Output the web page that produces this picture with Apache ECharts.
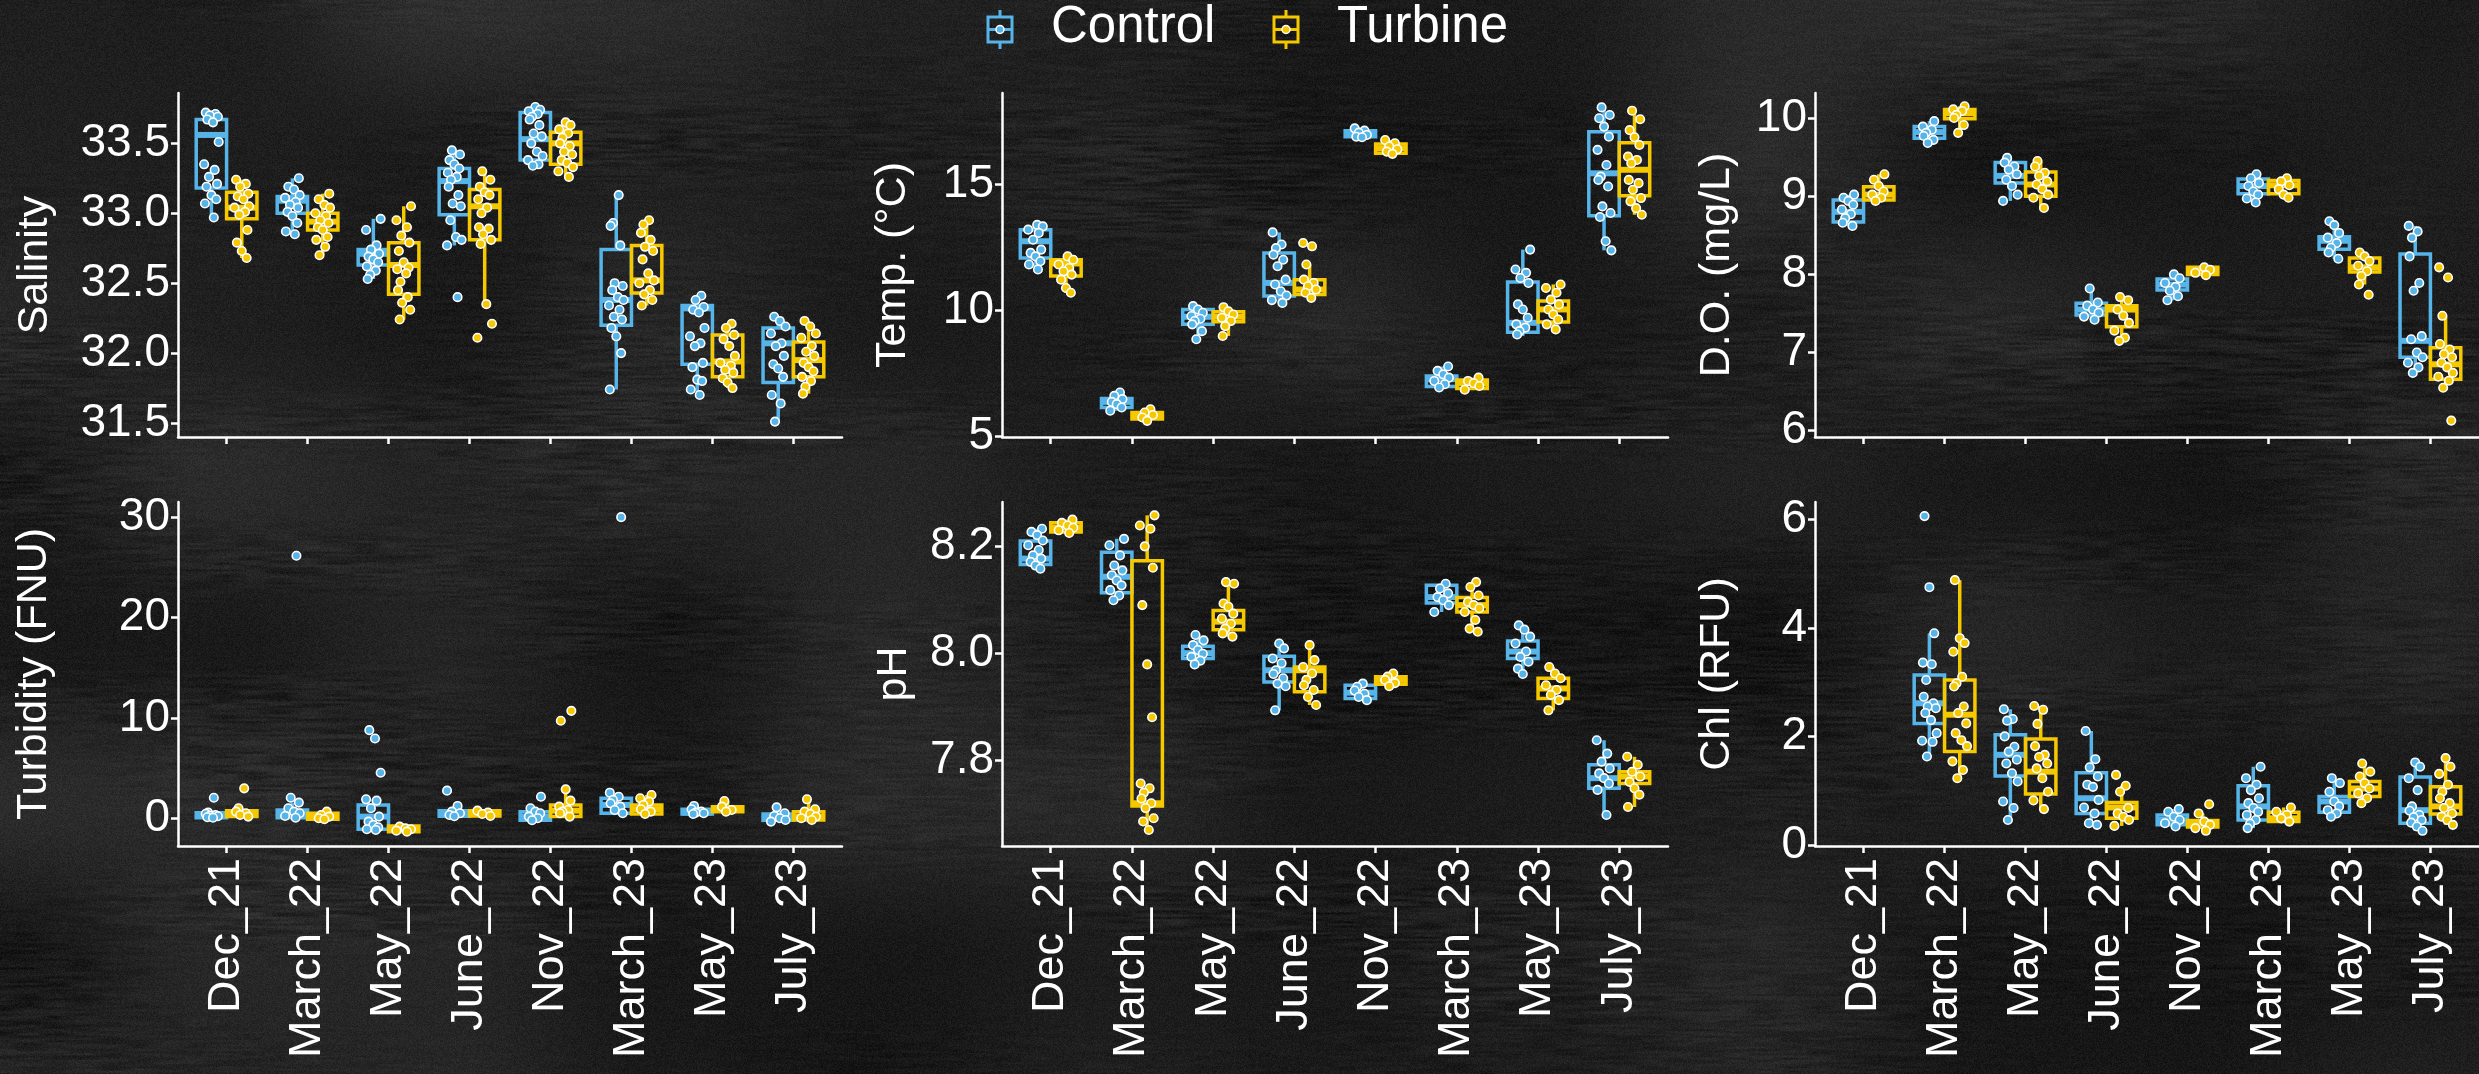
<!DOCTYPE html>
<html>
<head>
<meta charset="utf-8">
<script src="https://cdn.jsdelivr.net/npm/echarts@6/dist/echarts.min.js"></script>
<style>
  html, body { margin: 0; padding: 0; background: #1d1d1d; overflow: hidden; }
  #wrap { position: relative; width: 2479px; height: 1074px; }
  #board, #chart { position: absolute; left: 0; top: 0; width: 2479px; height: 1074px; }
</style>
</head>
<body>
<div id="wrap">
  <canvas id="board" width="2479" height="1074"></canvas>
  <div id="chart"></div>
</div>
<script>
// ---- sampling campaigns ----
const categories = ['Dec_21', 'March_22', 'May_22', 'June_22', 'Nov_22', 'March_23', 'May_23', 'July_23'];
const groups = ['Control', 'Turbine'];

// ---- box statistics per campaign: [lower whisker, Q1, median, Q3, upper whisker] ----
const salinityCtrlBox = [[32.97,33.18,33.56,33.67,33.72],[32.85,33.00,33.09,33.12,33.25],[32.53,32.63,32.71,32.74,32.96],[32.77,32.99,33.23,33.32,33.45],[33.34,33.38,33.53,33.72,33.76],[31.74,32.20,32.38,32.74,33.13],[31.70,31.92,32.32,32.34,32.41],[31.51,31.79,32.07,32.18,32.26]];
const salinityTurbBox = [[32.68,32.96,33.04,33.15,33.24],[32.70,32.88,32.94,33.00,33.14],[32.24,32.42,32.63,32.79,33.05],[32.35,32.81,33.05,33.17,33.30],[33.26,33.35,33.50,33.58,33.65],[32.34,32.43,32.52,32.77,32.95],[31.75,31.83,31.94,32.13,32.21],[31.71,31.83,31.95,32.08,32.23]];
const tempCtrlBox = [[11.62,12.08,12.74,13.20,13.39],[6.03,6.16,6.38,6.51,6.75],[8.86,9.45,9.75,10.04,10.17],[10.30,10.57,11.09,12.28,13.09],[16.86,16.88,17.02,17.12,17.21],[6.95,6.99,7.28,7.41,7.78],[8.99,9.14,9.51,11.13,12.41],[12.38,13.75,15.43,17.08,18.04]];
const tempTurbBox = [[10.70,11.36,11.86,12.01,12.14],[5.63,5.70,5.83,5.96,6.09],[8.99,9.55,9.75,9.95,10.13],[10.50,10.63,10.83,11.22,11.82],[16.20,16.22,16.42,16.59,16.75],[6.86,6.91,7.12,7.25,7.34],[9.25,9.54,10.04,10.37,11.03],[13.79,14.54,15.57,16.64,17.91]];
const doCtrlBox = [[8.62,8.67,8.80,8.95,9.02],[9.68,9.74,9.82,9.89,9.96],[8.94,9.17,9.26,9.43,9.49],[7.42,7.48,7.55,7.63,7.82],[7.67,7.80,7.87,7.94,8.00],[8.92,9.03,9.13,9.22,9.28],[8.20,8.32,8.43,8.48,8.68],[6.74,6.94,7.15,8.26,8.62]];
const doTurbBox = [[8.94,8.95,9.02,9.12,9.28],[9.81,9.99,10.06,10.11,10.15],[8.85,9.00,9.15,9.31,9.45],[7.15,7.33,7.55,7.60,7.71],[7.99,8.00,8.04,8.09,8.09],[8.98,9.03,9.14,9.20,9.23],[7.87,8.03,8.09,8.21,8.28],[6.55,6.66,6.85,7.06,7.47]];
const turbCtrlBox = [[0.05,0.05,0.23,0.56,0.56],[0.05,0.05,0.50,0.83,1.56],[-1.16,-1.09,0.17,1.33,1.89],[0.20,0.20,0.33,0.76,1.23],[-0.20,-0.20,0.17,0.66,1.00],[0.50,0.50,1.33,1.99,2.55],[0.43,0.43,0.56,0.90,1.23],[-0.33,-0.20,0.17,0.43,1.09]];
const turbTurbBox = [[0.17,0.17,0.50,0.76,1.00],[-0.10,-0.10,0.17,0.50,0.66],[-1.33,-1.33,-1.06,-0.76,-0.76],[0.23,0.23,0.50,0.76,0.76],[0.17,0.17,0.76,1.33,2.88],[0.43,0.43,0.90,1.33,2.32],[0.66,0.66,0.83,1.16,1.72],[-0.17,-0.17,0.17,0.66,1.89]];
const phCtrlBox = [[8.158,8.166,8.177,8.210,8.233],[8.099,8.113,8.143,8.189,8.214],[7.979,7.990,8.000,8.013,8.034],[7.893,7.946,7.968,7.994,8.018],[7.912,7.915,7.926,7.940,7.943],[8.077,8.094,8.105,8.127,8.130],[7.961,7.990,8.003,8.023,8.052],[7.697,7.747,7.766,7.791,7.837]];
const phTurbBox = [[8.225,8.227,8.235,8.244,8.250],[7.666,7.714,7.719,8.173,8.258],[8.031,8.044,8.059,8.080,8.133],[7.903,7.928,7.968,7.974,8.015],[7.938,7.942,7.950,7.956,7.962],[8.040,8.077,8.090,8.104,8.133],[7.893,7.915,7.934,7.953,7.974],[7.712,7.756,7.769,7.778,7.806]];
const chlCtrlBox = [null,[1.63,2.24,2.61,3.13,3.90],[0.46,1.27,1.66,2.03,2.50],[0.37,0.58,0.86,1.33,2.10],[0.34,0.37,0.46,0.55,0.66],[0.31,0.46,0.71,1.09,1.44],[0.52,0.60,0.80,0.89,1.23],[0.26,0.40,0.64,1.25,1.52]];
const chlTurbBox = [null,[1.23,1.72,2.40,3.04,4.88],[0.66,0.94,1.35,1.95,2.56],[0.35,0.49,0.69,0.78,1.09],[0.26,0.33,0.39,0.45,0.58],[0.43,0.43,0.49,0.60,0.69],[0.77,0.89,1.04,1.17,1.50],[0.37,0.57,0.71,1.07,1.60]];

// ---- individual measurements per campaign ----
const salinityCtrlPts = [
  [33.72,33.71,33.70,33.69,33.67,33.65,33.51,33.35,33.31,33.26,33.21,33.19,33.13,33.10,33.07,32.97],
  [33.25,33.19,33.17,33.13,33.11,33.08,33.06,33.04,33.01,32.98,32.93,32.87,32.85],
  [32.96,32.88,32.77,32.74,32.71,32.69,32.67,32.65,32.62,32.59,32.56,32.53],
  [33.45,33.42,33.38,33.35,33.32,33.29,33.26,33.24,33.19,33.13,33.07,33.05,32.95,32.83,32.81,32.77,32.40],
  [33.76,33.74,33.73,33.71,33.69,33.67,33.63,33.57,33.55,33.50,33.44,33.41,33.38,33.35,33.34],
  [33.13,32.93,32.91,32.77,32.50,32.48,32.45,32.40,32.38,32.34,32.31,32.26,32.24,32.18,32.12,32.00,31.74],
  [32.41,32.38,32.33,32.31,32.29,32.18,32.12,32.07,32.05,31.93,31.90,31.81,31.80,31.74,31.70],
  [32.26,32.23,32.19,32.14,32.07,32.05,31.98,31.92,31.89,31.83,31.70,31.64,31.51]
];
const salinityTurbPts = [
  [33.24,33.21,33.19,33.14,33.12,33.10,33.05,33.04,33.01,32.99,32.88,32.79,32.73,32.68],
  [33.14,33.10,33.06,33.04,33.00,32.98,32.95,32.93,32.90,32.88,32.83,32.81,32.76,32.70],
  [33.05,32.95,32.90,32.84,32.79,32.73,32.65,32.61,32.60,32.57,32.51,32.45,32.40,32.36,32.31,32.24],
  [33.30,33.24,33.19,33.15,33.13,33.10,33.04,33.00,32.90,32.89,32.85,32.81,32.78,32.35,32.21,32.11],
  [33.65,33.63,33.60,33.57,33.54,33.50,33.48,33.44,33.42,33.38,33.36,33.33,33.30,33.26],
  [32.95,32.92,32.86,32.81,32.76,32.73,32.67,32.57,32.52,32.50,32.45,32.42,32.38,32.34],
  [32.21,32.18,32.13,32.10,32.05,31.98,31.93,31.91,31.88,31.86,31.82,31.79,31.75],
  [32.23,32.19,32.14,32.11,32.05,32.01,31.98,31.93,31.90,31.87,31.83,31.80,31.76,31.71]
];
const tempCtrlPts = [
  [13.39,13.33,13.20,13.07,12.80,12.41,12.28,12.14,11.95,11.82,11.62],
  [6.75,6.62,6.49,6.38,6.29,6.16,6.03],
  [10.17,10.04,9.91,9.78,9.67,9.58,9.45,9.18,8.86],
  [13.09,12.61,12.47,12.21,12.01,11.75,11.22,11.03,10.76,10.59,10.41,10.30],
  [17.21,17.12,17.04,16.95,16.88,16.86],
  [7.78,7.61,7.47,7.34,7.21,7.08,6.95],
  [12.41,11.62,11.49,11.29,11.09,10.24,10.04,9.71,9.45,9.32,9.18,9.05],
  [18.04,17.74,17.61,17.28,16.88,16.36,15.76,15.30,15.17,14.91,14.12,13.86,13.70,12.74,12.38]
];
const tempTurbPts = [
  [12.14,12.01,11.82,11.68,11.55,11.42,11.22,10.89,10.70],
  [6.09,5.96,5.86,5.76,5.63],
  [10.13,9.97,9.84,9.71,9.58,9.38,8.99],
  [12.67,12.54,11.82,11.22,11.09,10.96,10.83,10.70,10.50],
  [16.75,16.62,16.49,16.38,16.29,16.20],
  [7.34,7.21,7.12,7.01,6.86],
  [11.03,10.89,10.70,10.43,10.24,10.04,9.84,9.64,9.45,9.25],
  [17.91,17.57,17.14,16.86,16.55,16.09,15.96,15.83,15.17,15.04,14.78,14.45,14.32,14.05,13.79]
];
const doCtrlPts = [
  [9.02,8.98,8.94,8.89,8.83,8.77,8.72,8.66,8.62],
  [9.96,9.89,9.85,9.81,9.77,9.72,9.68],
  [9.49,9.43,9.38,9.34,9.28,9.21,9.13,9.02,8.94],
  [7.82,7.64,7.60,7.55,7.51,7.46,7.42],
  [8.00,7.95,7.89,7.84,7.79,7.72,7.67],
  [9.28,9.23,9.17,9.13,9.06,9.02,8.97,8.92],
  [8.68,8.63,8.53,8.47,8.40,8.34,8.28,8.20],
  [8.62,8.55,8.47,8.23,7.89,7.79,7.21,7.17,7.00,6.94,6.87,6.81,6.74]
];
const doTurbPts = [
  [9.28,9.21,9.13,9.06,9.02,8.98,8.94],
  [10.15,10.11,10.09,10.04,10.00,9.91,9.81],
  [9.45,9.38,9.30,9.26,9.19,9.15,9.09,9.02,8.98,8.85],
  [7.71,7.67,7.55,7.47,7.38,7.28,7.19,7.15],
  [8.09,8.06,8.02,7.99],
  [9.23,9.19,9.14,9.09,9.02,8.98],
  [8.28,8.23,8.17,8.11,8.04,7.98,7.87,7.74],
  [8.09,7.96,7.47,7.11,7.04,6.98,6.94,6.87,6.81,6.74,6.69,6.64,6.55,6.13]
];
const turbCtrlPts = [
  [2.05,0.56,0.45,0.33,0.25,0.20,0.10,0.05],
  [26.15,2.05,1.56,1.00,0.66,0.50,0.23,0.05],
  [8.78,7.95,4.54,1.89,1.76,1.00,0.17,-0.33,-0.66,-0.90,-1.09,-1.16],
  [2.75,1.23,0.66,0.50,0.33,0.20],
  [2.15,1.00,0.66,0.50,0.17,0.00,-0.20],
  [29.99,2.55,2.15,1.82,1.49,1.16,0.83,0.50],
  [1.23,0.90,0.66,0.56,0.50,0.43],
  [1.09,0.50,0.23,0.00,-0.17,-0.33]
];
const turbTurbPts = [
  [2.98,1.00,0.66,0.50,0.33,0.17],
  [0.66,0.33,0.17,0.00,-0.10],
  [-0.83,-1.00,-1.09,-1.23,-1.33],
  [0.76,0.56,0.43,0.23],
  [10.70,9.71,2.88,1.76,1.16,0.83,0.66,0.50,0.17],
  [2.32,1.99,1.66,1.33,0.90,0.66,0.43],
  [1.72,1.16,0.83,0.66],
  [1.89,0.90,0.66,0.43,0.17,0.00,-0.17]
];
const phCtrlPts = [
  [8.233,8.227,8.221,8.211,8.202,8.193,8.183,8.177,8.171,8.164,8.158],
  [8.214,8.202,8.183,8.164,8.155,8.146,8.136,8.127,8.118,8.108,8.099],
  [8.034,8.024,8.015,8.006,7.999,7.993,7.986,7.979],
  [8.018,8.009,7.990,7.981,7.968,7.961,7.953,7.943,7.938,7.893],
  [7.943,7.937,7.930,7.924,7.918,7.912],
  [8.130,8.121,8.112,8.105,8.099,8.090,8.077],
  [8.052,8.044,8.031,8.018,8.003,7.993,7.984,7.971,7.961],
  [7.837,7.812,7.797,7.784,7.775,7.766,7.756,7.744,7.697]
];
const phTurbPts = [
  [8.250,8.244,8.239,8.235,8.230,8.225],
  [8.258,8.239,8.233,8.200,8.160,8.090,7.979,7.880,7.756,7.747,7.739,7.728,7.719,7.710,7.691,7.685,7.669],
  [8.133,8.130,8.093,8.087,8.074,8.065,8.055,8.046,8.037,8.031],
  [8.015,7.987,7.974,7.962,7.950,7.940,7.931,7.918,7.903],
  [7.962,7.956,7.950,7.944,7.938],
  [8.133,8.124,8.108,8.096,8.090,8.084,8.077,8.062,8.046,8.040],
  [7.974,7.962,7.953,7.940,7.931,7.922,7.912,7.893],
  [7.806,7.791,7.778,7.769,7.759,7.747,7.735,7.712]
];
const chlCtrlPts = [
  [],
  [6.06,4.75,3.90,3.36,3.33,3.04,2.73,2.61,2.55,2.52,2.43,2.30,2.06,1.92,1.90,1.63],
  [2.50,2.32,2.29,2.00,1.81,1.72,1.57,1.50,1.32,1.17,0.80,0.68,0.46],
  [2.10,1.58,1.43,1.26,1.11,1.07,0.83,0.69,0.58,0.40,0.37],
  [0.66,0.61,0.52,0.46,0.40,0.34],
  [1.44,1.23,1.11,1.01,0.86,0.77,0.68,0.61,0.55,0.46,0.39,0.31],
  [1.23,1.14,0.98,0.80,0.71,0.64,0.58,0.52],
  [1.52,1.44,1.23,1.01,0.71,0.63,0.55,0.51,0.46,0.41,0.34,0.26]
];
const chlTurbPts = [
  [],
  [4.88,3.81,3.72,3.56,3.10,2.98,2.92,2.55,2.43,2.24,2.06,1.93,1.82,1.54,1.38,1.23],
  [2.56,2.49,2.23,1.82,1.66,1.62,1.50,1.41,1.23,0.98,0.82,0.66],
  [1.29,1.09,0.98,0.68,0.58,0.52,0.46,0.35],
  [0.75,0.58,0.43,0.37,0.31,0.26],
  [0.69,0.61,0.55,0.49,0.43],
  [1.50,1.35,1.26,1.14,1.04,0.95,0.86,0.77],
  [1.60,1.44,1.31,1.11,0.98,0.86,0.77,0.68,0.58,0.52,0.46,0.37]
];

// ---- y-axis tick labels per panel ----
const salinityTicks = [31.5, 32.0, 32.5, 33.0, 33.5];
const tempTicks = [5, 10, 15];
const doTicks = [6, 7, 8, 9, 10];
const turbTicks = [0, 10, 20, 30];
const phTicks = [7.8, 8.0, 8.2];
const chlTicks = [0, 2, 4, 6];

// ---- look ----
const COLORS = ['#56B4E9', '#F5C800'];
const FONT = "'Liberation Sans', Arial, Helvetica, sans-serif";
const WHITE = '#ffffff';
const DODGE = 0.1875;      // half of each box's width, in category units
const BOX_LW = 3.5;
const MED_LW = 6;
const JITTER = [-0.07, 0.05, -0.02, 0.08, -0.05, 0.02, 0.09, -0.09, 0.04, -0.03, 0.07, -0.06, 0.0, 0.06, -0.08, 0.03, -0.04];

const panels = [
  { title: 'Salinity',        grid: { left: 178,  top: 93,  width: 664, height: 344 }, min: 31.40, max: 33.86, ticks: salinityTicks, dec: 1, gap: 121, xLabels: false, box: [salinityCtrlBox, salinityTurbBox], pts: [salinityCtrlPts, salinityTurbPts] },
  { title: 'Temp. (°C)',      grid: { left: 1002, top: 93,  width: 666, height: 344 }, min: 4.99,  max: 18.61, ticks: tempTicks,     dec: 0, gap: 87,  xLabels: false, box: [tempCtrlBox, tempTurbBox],         pts: [tempCtrlPts, tempTurbPts] },
  { title: 'D.O. (mg/L)',     grid: { left: 1815, top: 93,  width: 664, height: 344 }, min: 5.92,  max: 10.32, ticks: doTicks,       dec: 0, gap: 76,  xLabels: false, box: [doCtrlBox, doTurbBox],             pts: [doCtrlPts, doTurbPts] },
  { title: 'Turbidity (FNU)', grid: { left: 178,  top: 502, width: 664, height: 344 }, min: -2.76, max: 31.5,  ticks: turbTicks,     dec: 0, gap: 122, xLabels: true,  box: [turbCtrlBox, turbTurbBox],         pts: [turbCtrlPts, turbTurbPts] },
  { title: 'pH',              grid: { left: 1002, top: 502, width: 666, height: 344 }, min: 7.639, max: 8.283, ticks: phTicks,       dec: 1, gap: 86,  xLabels: true,  box: [phCtrlBox, phTurbBox],             pts: [phCtrlPts, phTurbPts] },
  { title: 'Chl (RFU)',       grid: { left: 1815, top: 502, width: 664, height: 344 }, min: -0.02, max: 6.32,  ticks: chlTicks,      dec: 0, gap: 76,  xLabels: true,  box: [chlCtrlBox, chlTurbBox],           pts: [chlCtrlPts, chlTurbPts] }
];

// ---- chalkboard backdrop: mottled grey with short horizontal chalk scratches ----
(function paintBoard() {
  const c = document.getElementById('board');
  const w = c.width, h = c.height;
  const ctx = c.getContext('2d');
  const img = ctx.createImageData(w, h);
  const d = img.data;
  let seed = 918273;
  const next = () => { seed = (seed * 1664525 + 1013904223) >>> 0; return seed / 4294967296; };
  const smooth = t => t * t * (3 - 2 * t);
  function field(cx, cy) {
    const gw = Math.ceil(w / cx) + 2, gh = Math.ceil(h / cy) + 2;
    const g = new Float32Array(gw * gh);
    for (let i = 0; i < g.length; i++) g[i] = next() - 0.5;
    return function (x, y) {
      const fx = x / cx, fy = y / cy;
      const ix = fx | 0, iy = fy | 0;
      const tx = smooth(fx - ix), ty = smooth(fy - iy);
      const a = g[iy * gw + ix], b = g[iy * gw + ix + 1];
      const e = g[(iy + 1) * gw + ix], f = g[(iy + 1) * gw + ix + 1];
      return (a + (b - a) * tx) * (1 - ty) + (e + (f - e) * tx) * ty;
    };
  }
  const blotch = field(220, 160);
  const mask = field(300, 70);
  const scratch = field(28, 2.2);
  for (let y = 0; y < h; y++) {
    const gy = y / h;
    for (let x = 0; x < w; x++) {
      const gx = x / w;
      const base = 31 + 8 * (1 - gx) * (1 - gy) - 5 * gx * gy;
      const m = Math.max(0, mask(x, y) + 0.25);
      let v = base + 22 * blotch(x, y) + 34 * scratch(x, y) * m + (next() - 0.5) * 16;
      if (v < 6) v = 6;
      const i = (y * w + x) * 4;
      d[i] = d[i + 1] = d[i + 2] = v;
      d[i + 3] = 255;
    }
  }
  ctx.putImageData(img, 0, 0);
})();

// ---- chart ----
const chart = echarts.init(document.getElementById('chart'), null, { renderer: 'canvas' });
const catIdx = categories.map((_, i) => i);

function boxRenderer(offset, color) {
  return function (params, api) {
    const cx = api.value(0) + offset;
    const lo = api.value(1), q1 = api.value(2), med = api.value(3), q3 = api.value(4), hi = api.value(5);
    const tl = api.coord([cx - DODGE, q3]);
    const br = api.coord([cx + DODGE, q1]);
    const m = api.coord([cx, med]);
    const pHi = api.coord([cx, hi]);
    const pLo = api.coord([cx, lo]);
    const ln = { stroke: color, lineWidth: BOX_LW, fill: null };
    return {
      type: 'group',
      children: [
        { type: 'line', shape: { x1: m[0], y1: pHi[1], x2: m[0], y2: tl[1] }, style: ln },
        { type: 'line', shape: { x1: m[0], y1: br[1], x2: m[0], y2: pLo[1] }, style: ln },
        { type: 'rect', shape: { x: tl[0], y: tl[1], width: br[0] - tl[0], height: br[1] - tl[1] }, style: { stroke: color, lineWidth: BOX_LW, fill: 'transparent' } },
        { type: 'line', shape: { x1: tl[0], y1: m[1], x2: br[0], y2: m[1] }, style: { stroke: color, lineWidth: MED_LW } }
      ]
    };
  };
}

const grids = [], xAxes = [], yAxes = [], series = [];
panels.forEach((p, k) => {
  grids.push(Object.assign({ containLabel: false }, p.grid));
  xAxes.push({
    type: 'value', gridIndex: k, min: -0.6, max: 7.6,
    axisLine: { show: true, onZero: false, lineStyle: { color: WHITE, width: 2.5 } },
    axisTick: { show: true, customValues: catIdx, length: 7, lineStyle: { color: WHITE, width: 2.5 } },
    axisLabel: {
      show: p.xLabels, customValues: catIdx, rotate: 90, margin: 12,
      color: WHITE, fontSize: 45, fontFamily: FONT,
      formatter: v => categories[Math.round(v)]
    },
    splitLine: { show: false }
  });
  yAxes.push({
    type: 'value', gridIndex: k, min: p.min, max: p.max,
    name: p.title, nameLocation: 'middle', nameRotate: 90, nameGap: p.gap,
    nameTextStyle: { color: WHITE, fontSize: 43, fontFamily: FONT },
    axisLine: { show: true, onZero: false, lineStyle: { color: WHITE, width: 2.5 } },
    axisTick: { show: true, customValues: p.ticks, length: 7, lineStyle: { color: WHITE, width: 2.5 } },
    axisLabel: {
      customValues: p.ticks, margin: 8, color: WHITE, fontSize: 46, fontFamily: FONT,
      formatter: v => Number(v).toFixed(p.dec)
    },
    splitLine: { show: false }
  });
  groups.forEach((g, gi) => {
    const offset = gi === 0 ? -DODGE : DODGE;
    const boxData = [];
    p.box[gi].forEach((b, i) => { if (b) boxData.push([i].concat(b)); });
    series.push({
      name: g, type: 'custom', xAxisIndex: k, yAxisIndex: k, z: 2,
      renderItem: boxRenderer(offset, COLORS[gi]),
      encode: { x: 0, y: [1, 2, 3, 4, 5] },
      data: boxData, silent: true
    });
  });
  groups.forEach((g, gi) => {
    const offset = gi === 0 ? -DODGE : DODGE;
    const pts = [];
    p.pts[gi].forEach((vals, i) => {
      vals.forEach((v, j) => {
        pts.push([i + offset + JITTER[(j + 3 * i + 5 * k) % JITTER.length], v]);
      });
    });
    series.push({
      name: g, type: 'scatter', xAxisIndex: k, yAxisIndex: k, z: 3,
      symbol: 'circle', symbolSize: 8.5,
      itemStyle: { color: COLORS[gi], borderColor: WHITE, borderWidth: 1.6, opacity: 1 },
      data: pts, silent: true
    });
  });
});

// legend keys: miniature box with centre dot
function legendKey(x, color) {
  return {
    type: 'group', children: [
      { type: 'line', shape: { x1: x + 12, y1: 10, x2: x + 12, y2: 17 }, style: { stroke: color, lineWidth: 3 } },
      { type: 'line', shape: { x1: x + 12, y1: 42, x2: x + 12, y2: 49 }, style: { stroke: color, lineWidth: 3 } },
      { type: 'rect', shape: { x: x, y: 17, width: 24, height: 25 }, style: { stroke: color, lineWidth: 3, fill: 'transparent' } },
      { type: 'line', shape: { x1: x, y1: 29.5, x2: x + 24, y2: 29.5 }, style: { stroke: color, lineWidth: 3 } },
      { type: 'circle', shape: { cx: x + 12, cy: 29.5, r: 4 }, style: { fill: color, stroke: WHITE, lineWidth: 1.5 } }
    ]
  };
}

chart.setOption({
  animation: false,
  backgroundColor: 'transparent',
  grid: grids,
  xAxis: xAxes,
  yAxis: yAxes,
  series: series,
  graphic: [
    legendKey(988, COLORS[0]),
    { type: 'text', left: 1051, top: 2, style: { text: groups[0], fill: WHITE, fontSize: 51, fontFamily: FONT } },
    legendKey(1274, COLORS[1]),
    { type: 'text', left: 1337, top: 2, style: { text: groups[1], fill: WHITE, fontSize: 51, fontFamily: FONT } }
  ]
});
</script>
</body>
</html>
